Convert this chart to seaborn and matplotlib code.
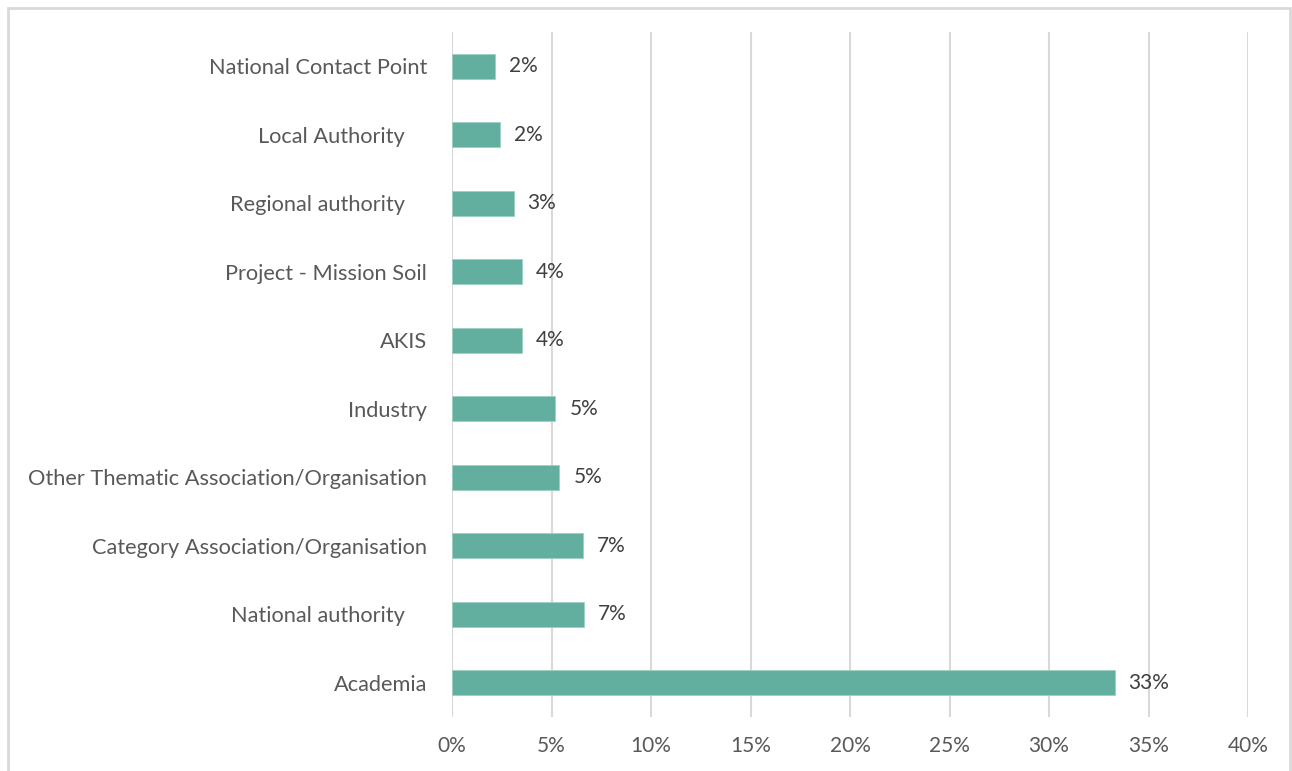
import matplotlib
matplotlib.use("Agg")
import matplotlib.pyplot as plt
from matplotlib.patches import Rectangle
from matplotlib.ticker import MultipleLocator, PercentFormatter
import seaborn as sns
import pandas as pd

# Share of respondents by organisation type
categories = [
    "National Contact Point",
    "Local Authority    ",
    "Regional authority    ",
    "Project - Mission Soil",
    "AKIS",
    "Industry",
    "Other Thematic Association/Organisation",
    "Category Association/Organisation",
    "National authority    ",
    "Academia",
]
shares = [0.0216, 0.024, 0.031, 0.035, 0.035, 0.052, 0.054, 0.066, 0.0665, 0.333]

df = pd.DataFrame({"category": categories, "share": shares})

sns.set_theme(style="white")
plt.rcParams["font.family"] = ["Lato", "DejaVu Sans"]

W, H, DPI = 1292, 771, 100
fig = plt.figure(figsize=(W / DPI, H / DPI), dpi=DPI)
ax = fig.add_axes([452 / W, 1 - 717 / H, (1248 - 452) / W, (717 - 32) / H])

bar_color = "#62ae9f"
sns.barplot(data=df, x="share", y="category", order=categories, orient="h",
            color=bar_color, saturation=1, width=0.36, ax=ax,
            edgecolor="#9fd0c4", linewidth=0.6)

ax.set_xlim(0, 0.40)
ax.set_ylim(len(categories) - 0.5, -0.5)
ax.xaxis.set_major_locator(MultipleLocator(0.05))
ax.xaxis.set_major_formatter(PercentFormatter(xmax=1, decimals=0))
ax.grid(axis="x", color="#d9d9d9", linewidth=1.5)
ax.set_axisbelow(True)
for s in ["top", "right", "bottom", "left"]:
    ax.spines[s].set_visible(False)
ax.set_xlabel("")
ax.set_ylabel("")
ax.tick_params(axis="x", length=0, pad=14, labelsize=15, labelcolor="#595959")
ax.tick_params(axis="y", length=0, pad=18, labelsize=15.7, labelcolor="#595959")
for lbl in ax.get_yticklabels():
    lbl.set_y(lbl.get_position()[1])

# value labels at the end of each bar
for i, v in enumerate(shares):
    ax.annotate(f"{v:.0%}", xy=(v, i), xytext=(10, 0), textcoords="offset points",
                ha="left", va="center", fontsize=15, color="#404040")

# thin frame around the chart area
fig.patches.append(Rectangle((8 / W, -0.05), (1290 - 8) / W, 1 - 8 / H + 0.05,
                             transform=fig.transFigure, fill=False,
                             edgecolor="#d9d9d9", linewidth=2))

fig.savefig("out.png", dpi=DPI, facecolor="white")
